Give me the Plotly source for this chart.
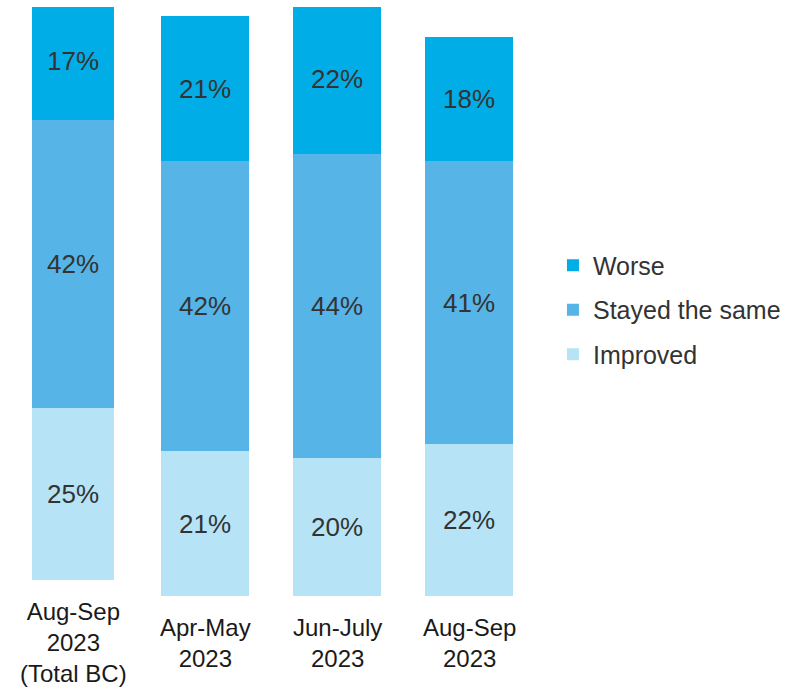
import plotly.graph_objects as go

categories = ["Aug-Sep<br>2023<br>(Total BC)", "Apr-May<br>2023", "Jun-July<br>2023", "Aug-Sep<br>2023"]
improved = [25, 21, 20, 22]
stayed = [42, 42, 44, 41]
worse = [17, 21, 22, 18]

series = [("Improved", improved, "#B6E4F6", 3),
          ("Stayed the same", stayed, "#56B4E6", 2),
          ("Worse", worse, "#00ADE6", 1)]

FONT = "Liberation Sans, Arial, sans-serif"
fig = go.Figure()

for name, vals, color, rank in series:
    # Total BC bar (drawn on its own baseline)
    fig.add_trace(go.Bar(
        x=categories[:1], y=vals[:1], name=name, marker_color=color,
        marker_line_width=0, width=0.62, yaxis="y2", showlegend=False,
        legendgroup=name, legendrank=rank,
        text=[f"{v}%" for v in vals[:1]], textposition="inside",
        insidetextanchor="middle", textangle=0,
        textfont=dict(family=FONT, size=26, color="#333333"),
        hoverinfo="skip"))
    fig.add_trace(go.Bar(
        x=categories[1:], y=vals[1:], name=name, marker_color=color,
        marker_line_width=0, width=0.66, legendgroup=name, legendrank=rank,
        text=[f"{v}%" for v in vals[1:]], textposition="inside",
        insidetextanchor="middle", textangle=0,
        textfont=dict(family=FONT, size=26, color="#333333"),
        hoverinfo="skip"))

s = 6.9
s2 = 6.87
for i, c in enumerate(categories):
    fig.add_annotation(x=c, xref="x", y=-0.079, yref="paper", text=c,
                       showarrow=False, yanchor="middle", xanchor="center",
                       font=dict(family=FONT, size=24, color="#1a1a1a"))

fig.update_layout(
    width=793, height=688,
    margin=dict(l=7, r=258, t=7, b=92),
    barmode="stack",
    plot_bgcolor="white", paper_bgcolor="white",
    font=dict(family=FONT, size=24, color="#333333"),
    uniformtext=dict(minsize=8, mode="show"),
    xaxis=dict(type="category", categoryorder="array", categoryarray=categories,
               range=[-0.5, 3.5], showticklabels=False, showgrid=False,
               zeroline=False, showline=False, ticks=""),
    yaxis=dict(range=[0, 589 / s], visible=False, showgrid=False, zeroline=False),
    yaxis2=dict(range=[-16 / s2, 573 / s2], overlaying="y", visible=False,
                showgrid=False, zeroline=False),
    legend=dict(x=1.034, xanchor="left", y=0.4856, yanchor="middle",
                traceorder="grouped",
                font=dict(family=FONT, size=25, color="#333333"),
                tracegroupgap=9, itemwidth=30, borderwidth=0,
                bgcolor="rgba(0,0,0,0)"),
    showlegend=True,
)

fig.write_html("out.html", config={"displayModeBar": False},
               post_script="document.body.style.margin='0';")
